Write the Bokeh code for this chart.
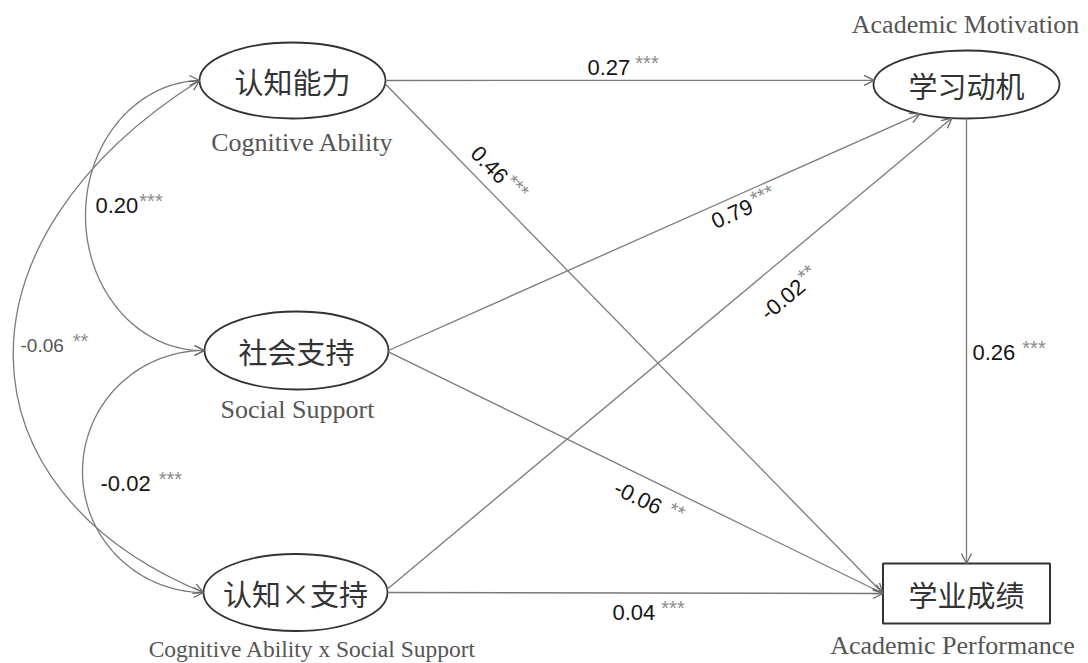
import math
import numpy as np
from bokeh.plotting import figure
from bokeh.models import Range1d, ColumnDataSource, Arrow, OpenHead
from bokeh.core.properties import value
from bokeh.embed import file_html
from bokeh.resources import INLINE

# ---- model variables -------------------------------------------------------
node_ids = ["CA", "SS", "INT", "AM", "AP"]
node_cn = ["认知能力", "社会支持", "认知×支持", "学习动机", "学业成绩"]
node_en = ["Cognitive Ability", "Social Support",
           "Cognitive Ability x Social Support",
           "Academic Motivation", "Academic Performance"]

# ---- structural paths: source -> target, standardised coefficient ----------
path_from = ["CA", "CA", "SS", "SS", "INT", "INT", "AM"]
path_to = ["AM", "AP", "AM", "AP", "AM", "AP", "AP"]
path_coef = [0.27, 0.46, 0.79, -0.06, -0.02, 0.04, 0.26]
path_sig = ["***", "***", "***", "**", "**", "***", "***"]

# ---- covariances among the predictors --------------------------------------
cov_a = ["CA", "SS", "CA"]
cov_b = ["SS", "INT", "INT"]
cov_coef = [0.20, -0.02, -0.06]
cov_sig = ["***", "***", "**"]

# ---- layout (pixel space, y grows downward) --------------------------------
W, H = 1088, 663
geom = {  # cx, cy, width, height, shape
    "CA": (292, 80, 186, 76, "ellipse"),
    "SS": (296, 350, 184, 78, "ellipse"),
    "INT": (295, 592, 184, 77, "ellipse"),
    "AM": (966, 84, 186, 68, "ellipse"),
    "AP": (966, 593, 167, 60, "rect"),
}
caption_pos = {"CA": (302, 142, 26), "SS": (297, 409, 26), "INT": (312, 648, 23.5),
               "AM": (965, 24, 26), "AP": (952, 645, 26)}

# port on each end of a path (ellipse angle in degrees, or rectangle side)
path_ports = [(0, 187), (5, "left"), (0, 120), (2, "left"), (-5, 99), (0, "left"), (90, "top")]
# coefficient label: left/middle anchor, rotate with edge?, gap before stars
path_label = [(587, 67, False, 5), (474, 149, True, 2), (712, 222, True, 2),
              (615, 486, True, 8), (763, 315, True, 2), (612, 612, False, 6),
              (972, 352, False, 7)]
cov_label = [(95, 205, False, 1, 22), (100, 483, False, 8, 22), (20, 345, False, 9, 19)]
cov_shape = [("arc", 85, None), ("arc", 82, None), ("bezier", (-55, 240), (-45, 490))]

EDGE = "#7a7a7a"
OUTLINE = "#333333"
NUM_FONT = "Liberation Sans"

ARIAL_W = {".": 0.278, "-": 0.333, "*": 0.389, " ": 0.278}


def text_w(s, size):
    return sum(ARIAL_W.get(c, 0.556) for c in s) * size


def port(node, spec):
    cx, cy, w, h, shape = geom[node]
    if shape == "rect":
        return {"left": (cx - w / 2, cy), "top": (cx, cy - h / 2)}[spec]
    t = math.radians(spec)
    return cx + w / 2 * math.cos(t), cy + h / 2 * math.sin(t)


p = figure(width=W, height=H, x_range=Range1d(0, W), y_range=Range1d(H, 0),
           output_backend="svg", toolbar_location=None, min_border=0)
p.axis.visible = False
p.grid.visible = False
p.outline_line_color = None
p.background_fill_color = "white"


def head():
    return OpenHead(size=10, line_color="#666666", line_width=1.3)


def add_head(x, y, dx, dy):
    n = math.hypot(dx, dy)
    p.add_layout(Arrow(end=head(), x_start=x - 8 * dx / n, y_start=y - 8 * dy / n,
                       x_end=x, y_end=y, line_alpha=0))


# labels collected here
num_x, num_y, num_t, num_a, num_s, num_c = [], [], [], [], [], []
st_x, st_y, st_t, st_a = [], [], [], []


def place(x, y, ang, num, sig, size, gap, color):
    a = math.radians(ang)
    d = (math.cos(a), -math.sin(a))
    up = (-math.sin(a), -math.cos(a))
    w = text_w(num, size)
    num_x.append(x); num_y.append(y); num_t.append(num); num_a.append(a)
    num_s.append(f"{size}px"); num_c.append(color)
    rise = 5
    st_x.append(x + (w + gap) * d[0] + rise * up[0])
    st_y.append(y + (w + gap) * d[1] + rise * up[1])
    st_t.append(sig); st_a.append(a)


# ---- structural paths ------------------------------------------------------
for i in range(len(path_from)):
    s_spec, t_spec = path_ports[i]
    x0, y0 = port(path_from[i], s_spec)
    x1, y1 = port(path_to[i], t_spec)
    p.add_layout(Arrow(end=head(), x_start=x0, y_start=y0, x_end=x1, y_end=y1,
                       line_color=EDGE, line_width=1.3))
    lx, ly, along, gap = path_label[i]
    ang = -math.degrees(math.atan2(y1 - y0, x1 - x0)) if along else 0
    place(lx, ly, ang, f"{path_coef[i]:.2f}", path_sig[i], 22, gap, "#151515")

# ---- covariance curves -----------------------------------------------------
for i in range(len(cov_a)):
    x0, y0 = port(cov_a[i], 180)
    x1, y1 = port(cov_b[i], 180)
    kind, c0, c1 = cov_shape[i]
    if kind == "arc":
        cx, cy = (x0 + x1) / 2, (y0 + y1) / 2
        rx, ry = cx - c0, (y1 - y0) / 2
        t = np.linspace(-np.pi / 2, np.pi / 2, 120)
        p.line(cx - rx * np.cos(t), cy + ry * np.sin(t), line_color=EDGE, line_width=1.3)
        add_head(x0, y0, 1, 0)
        add_head(x1, y1, 1, 0)
    else:
        p.bezier(x0=[x0], y0=[y0], x1=[x1], y1=[y1], cx0=[c0[0]], cy0=[c0[1]],
                 cx1=[c1[0]], cy1=[c1[1]], line_color=EDGE, line_width=1.3)
        add_head(x0, y0, x0 - c0[0], y0 - c0[1])
        add_head(x1, y1, x1 - c1[0], y1 - c1[1])
    lx, ly, _, gap, size = cov_label[i]
    color = "#151515" if size > 20 else "#555555"
    place(lx, ly, 0, f"{cov_coef[i]:.2f}", cov_sig[i], size, gap, color)

# ---- nodes -----------------------------------------------------------------
ell = [n for n in node_ids if geom[n][4] == "ellipse"]
p.ellipse(x=[geom[n][0] for n in ell], y=[geom[n][1] for n in ell],
          width=[geom[n][2] for n in ell], height=[geom[n][3] for n in ell],
          fill_color="white", line_color=OUTLINE, line_width=1.8)
rec = [n for n in node_ids if geom[n][4] == "rect"]
p.rect(x=[geom[n][0] for n in rec], y=[geom[n][1] for n in rec],
       width=[geom[n][2] for n in rec], height=[geom[n][3] for n in rec],
       fill_color="white", line_color=OUTLINE, line_width=2)

p.text(x=[geom[n][0] for n in node_ids], y=[geom[n][1] for n in node_ids], text=node_cn,
       text_font=value("Noto Sans CJK SC"), text_font_size="29px", text_color="#333333",
       text_align="center", text_baseline="middle")

cap = ColumnDataSource(dict(x=[caption_pos[n][0] for n in node_ids],
                            y=[caption_pos[n][1] for n in node_ids],
                            t=node_en,
                            s=[f"{caption_pos[n][2]}px" for n in node_ids]))
p.text(x="x", y="y", text="t", source=cap, text_font=value("Liberation Serif"),
       text_font_size="s", text_color="#555555", text_align="center",
       text_baseline="middle")

# ---- coefficient labels ----------------------------------------------------
nums = ColumnDataSource(dict(x=num_x, y=num_y, t=num_t, a=num_a, s=num_s, c=num_c))
p.text(x="x", y="y", text="t", angle="a", source=nums, text_font=value(NUM_FONT),
       text_font_size="s", text_color="c", text_align="left", text_baseline="middle")
stars = ColumnDataSource(dict(x=st_x, y=st_y, t=st_t, a=st_a))
p.text(x="x", y="y", text="t", angle="a", source=stars, text_font=value(NUM_FONT),
       text_font_size="20px", text_color="#8c8c8c", text_align="left",
       text_baseline="middle")

open("out.html", "w").write(file_html(p, INLINE))
